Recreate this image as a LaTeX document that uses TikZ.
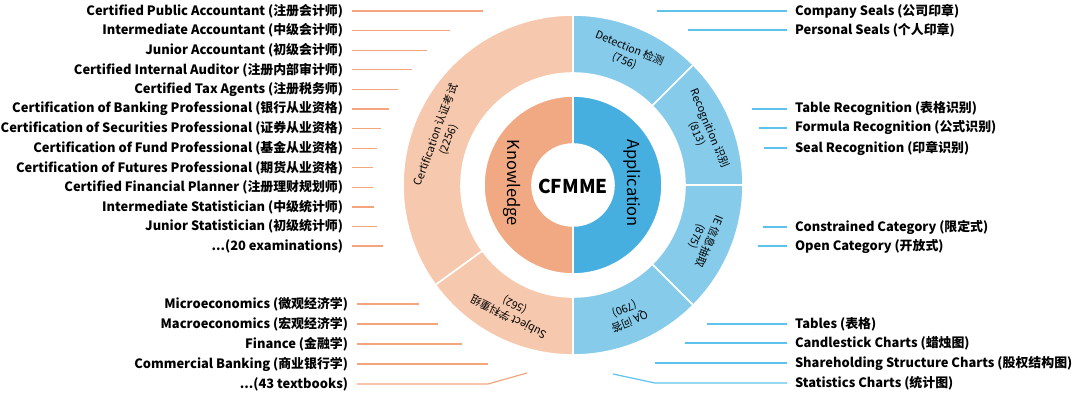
\documentclass[tikz,border=0pt]{standalone}
\usepackage{fontspec}
\setmainfont{Noto Sans CJK SC}
\usetikzlibrary{positioning}

\definecolor{knowdark}{HTML}{F1A983}
\definecolor{knowlight}{HTML}{F6C8AD}
\definecolor{appdark}{HTML}{47AFE0}
\definecolor{applight}{HTML}{86CBEA}
\definecolor{knowline}{HTML}{F4A57E}
\definecolor{appline}{HTML}{5DC3EC}

\tikzset{
  part/.style={draw=white,line width=1.6pt},
  ringtext/.style={align=center,inner sep=0pt,font=\fontsize{10.8}{13.5}\selectfont},
  lefttext/.style={anchor=east,inner ysep=0pt,inner xsep=0pt,outer xsep=9pt,font=\bfseries\fontsize{12.9}{14}\selectfont},
  righttext/.style={anchor=west,inner ysep=0pt,inner xsep=0pt,outer xsep=8pt,font=\bfseries\fontsize{12.9}{14}\selectfont},
  knowlink/.style={knowline,line width=1.2pt},
  applink/.style={appline,line width=1.2pt}
}

\begin{document}
\begin{tikzpicture}[x=1pt,y=1pt]
    \useasboundingbox (-573,-213) rectangle (502,185);
    % outer ring
    \fill[knowlight,part] (90:170) arc[start angle=90,end angle=216,radius=170] -- (216:112) arc[start angle=216,end angle=90,radius=112] -- cycle;
    \fill[knowlight,part] (216:170) arc[start angle=216,end angle=270,radius=170] -- (270:112) arc[start angle=270,end angle=216,radius=112] -- cycle;
    \foreach \a in {90,45,0,-45}
      \fill[applight,part] (\a:170) arc[start angle=\a,end angle=\a-45,radius=170] -- (\a-45:112) arc[start angle=\a-45,end angle=\a,radius=112] -- cycle;
    % inner ring
    \fill[knowdark,part] (90:89) arc[start angle=90,end angle=270,radius=89] -- (270:41) arc[start angle=270,end angle=90,radius=41] -- cycle;
    \fill[appdark,part] (90:89) arc[start angle=90,end angle=-90,radius=89] -- (-90:41) arc[start angle=-90,end angle=90,radius=41] -- cycle;
    \node[font=\bfseries\fontsize{19}{20}\selectfont] (core) at (0,-1) {CFMME};
    \node[rotate=-90,font=\fontsize{16.5}{18}\selectfont] (know) at (-61,2) {Knowledge};
    \node[rotate=-90,font=\fontsize{16.5}{18}\selectfont] (app) at (59,2) {Application};
    % ring labels
    \node[ringtext,rotate=70] (cert) at (160:139) {Certification 认证考试\\(2256)};
    \node[ringtext,rotate=153] (subj) at (244:140) {Subject 学科重组\\(562)};
    \node[ringtext,rotate=-22.5] (det) at (67.5:141) {Detection 检测\\(756)};
    \node[ringtext,rotate=-67.5] (rec) at (22.5:141) {Recognition 识别\\(813)};
    \node[ringtext,rotate=-112.5] (ie) at (-22.5:141) {IE 信息抽取\\(875)};
    \node[ringtext,rotate=-157.5] (qa) at (-67.5:141) {QA 问答\\(790)};
    % certification labels
    \foreach \t/\e [count=\i from 0] in {Certified Public Accountant (注册会计师)/-90,
        Intermediate Accountant (中级会计师)/-123, Junior Accountant (初级会计师)/-146,
        Certified Internal Auditor (注册内部审计师)/-161, Certified Tax Agents (注册税务师)/-175,
        Certification of Banking Professional (银行从业资格)/-184,
        Certification of Securities Professional (证券从业资格)/-192,
        Certification of Fund Professional (基金从业资格)/-196,
        Certification of Futures Professional (期货从业资格)/-200,
        Certified Financial Planner (注册理财规划师)/-200, Intermediate Statistician (中级统计师)/-199,
        Junior Statistician (初级统计师)/-196} {
      \pgfmathsetmacro\y{174-19.6*\i}
      \node[lefttext] (cert\i) at (-221,\y) {\t};
      \coordinate (certend\i) at (\e,\y);
      \draw[knowlink] (cert\i.east) -- (certend\i);
    }
    \node[lefttext] (cert12) at (-221,-61) {...(20 examinations)};
    \coordinate (certend12) at (-190,-61);
    \draw[knowlink] (cert12.east) -- (certend12);
    % subject labels
    \foreach \t/\e [count=\i from 0] in {Microeconomics (微观经济学)/-154, Macroeconomics (宏观经济学)/-135,
        Finance (金融学)/-111, Commercial Banking (商业银行学)/-85} {
      \pgfmathsetmacro\y{-119-20*\i}
      \node[lefttext] (subj\i) at (-216,\y) {\t};
      \coordinate (subjend\i) at (\e,\y);
      \draw[knowlink] (subj\i.east) -- (subjend\i);
    }
    \node[lefttext] (subj4) at (-216,-199) {...(43 textbooks)};
    \coordinate (subjbend) at (-85,-199);
    \coordinate (subjend4) at (-46,-188);
    \draw[knowlink] (subj4.east) -- (subjbend) -- (subjend4);
    % application labels
    \foreach \t/\y/\s [count=\i] in {Company Seals (公司印章)/174/84, Personal Seals (个人印章)/155/115,
        Table Recognition (表格识别)/76/179, Formula Recognition (公式识别)/57/186,
        Seal Recognition (印章识别)/37/191, Constrained Category (限定式)/-42/190,
        Open Category (开放式)/-61/185, Tables (表格)/-139/134, Candlestick Charts (蜡烛图)/-158/112,
        Shareholding Structure Charts (股权结构图)/-178/82} {
      \node[righttext] (app\i) at (214,\y) {\t};
      \coordinate (append\i) at (\s,\y);
      \draw[applink] (app\i.west) -- (append\i);
    }
    \node[righttext] (app11) at (214,-198) {Statistics Charts (统计图)};
    \coordinate (appbend) at (82,-198);
    \coordinate (append11) at (40,-189);
    \draw[applink] (app11.west) -- (appbend) -- (append11);
  \end{tikzpicture}
\end{document}
